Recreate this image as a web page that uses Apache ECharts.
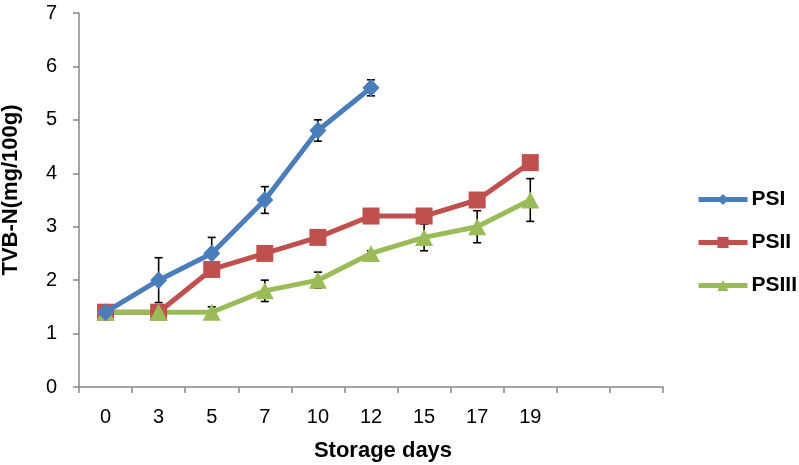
<!DOCTYPE html>
<html>
<head>
<meta charset="utf-8">
<script src="https://cdn.jsdelivr.net/npm/echarts@6/dist/echarts.min.js"></script>
<style>html,body{margin:0;padding:0;background:#fff}#c{width:799px;height:465px}</style>
</head>
<body>
<div id="c"></div>
<script>
const categories = ['0','3','5','7','10','12','15','17','19','',''];
const psi    = [1.4, 2.0, 2.5, 3.5, 4.8, 5.6, null, null, null];
const psiErr = [0, 0.42, 0.3, 0.25, 0.2, 0.15, 0, 0, 0];
const psii    = [1.4, 1.4, 2.2, 2.5, 2.8, 3.2, 3.2, 3.5, 4.2];
const psiiErr = [0, 0, 0, 0, 0, 0, 0, 0, 0];
const psiii    = [1.4, 1.4, 1.4, 1.8, 2.0, 2.5, 2.8, 3.0, 3.5];
const psiiiErr = [0, 0, 0.1, 0.2, 0.15, 0.05, 0.25, 0.3, 0.4];
const yTicks = [0,1,2,3,4,5,6,7];

function errData(vals, errs){
  const out = [];
  vals.forEach((v,i)=>{ if(v!=null && errs[i]>0) out.push([i, v-errs[i], v+errs[i]]); });
  return out;
}
function errSeries(vals, errs){
  return {
    type:'custom', z:1, silent:true,
    data: errData(vals, errs),
    encode:{x:0, y:[1,2]},
    renderItem:function(params, api){
      const x = api.value(0);
      const lo = api.coord([x, api.value(1)]);
      const hi = api.coord([x, api.value(2)]);
      const w = 4;
      const st = {stroke:'#000', lineWidth:1.6};
      return {type:'group', children:[
        {type:'line', shape:{x1:lo[0],y1:lo[1],x2:hi[0],y2:hi[1]}, style:st},
        {type:'line', shape:{x1:lo[0]-w,y1:lo[1],x2:lo[0]+w,y2:lo[1]}, style:st},
        {type:'line', shape:{x1:hi[0]-w,y1:hi[1],x2:hi[0]+w,y2:hi[1]}, style:st}
      ]};
    }
  };
}
const font = 'Liberation Sans, Arial, sans-serif';
const chart = echarts.init(document.getElementById('c'), null, {renderer:'canvas'});
chart.setOption({
  animation:false,
  grid:{left:79, top:13, right:136, bottom:78, containLabel:false, outerBoundsMode:'none'},
  legend:{
    orient:'vertical', left:696, top:189, itemGap:22, padding:0,
    itemWidth:49, itemHeight:14,
    lineStyle:{width:5},
    textStyle:{fontFamily:font, fontWeight:'bold', fontSize:21, color:'#000', padding:[0,0,0,-1]},
    data:['PSI','PSII','PSIII']
  },
  xAxis:{
    type:'category', data:categories, boundaryGap:true,
    name:'Storage days', nameLocation:'middle', nameGap:53,
    nameTextStyle:{fontFamily:font, fontWeight:'bold', fontSize:22, color:'#000', padding:[0,0,0,24]},
    axisLine:{lineStyle:{color:'#888', width:1.5}},
    axisTick:{show:true, length:6, alignWithLabel:false, lineStyle:{color:'#888', width:1.5}},
    axisLabel:{fontFamily:font, fontSize:20, color:'#000', margin:20, interval:0},
    splitLine:{show:false}
  },
  yAxis:{
    type:'value', min:0, max:7, interval:1,
    name:'TVB-N(mg/100g)', nameLocation:'middle', nameGap:57,
    nameTextStyle:{fontFamily:font, fontWeight:'bold', fontSize:22, color:'#000', padding:[0,0,0,20]},
    axisLine:{show:true, lineStyle:{color:'#888', width:1.5}},
    axisTick:{show:true, length:6, lineStyle:{color:'#888', width:1.5}},
    axisLabel:{fontFamily:font, fontSize:20, color:'#000', margin:22,
      formatter:function(v){ return yTicks.indexOf(v)>=0 ? String(v) : ''; }},
    splitLine:{show:false}
  },
  series:[
    errSeries(psi, psiErr),
    errSeries(psii, psiiErr),
    errSeries(psiii, psiiiErr),
    {name:'PSI', type:'line', z:3, data:psi, symbol:'diamond', symbolSize:[17,18],
      lineStyle:{color:'#4A7EBB', width:5}, itemStyle:{color:'#4A7EBB'}},
    {name:'PSII', type:'line', z:2, data:psii, symbol:'rect', symbolSize:17,
      lineStyle:{color:'#C0504D', width:5}, itemStyle:{color:'#C0504D'}},
    {name:'PSIII', type:'line', z:2, data:psiii, symbol:'triangle', symbolSize:[18,17],
      lineStyle:{color:'#9BBB59', width:5}, itemStyle:{color:'#9BBB59'}}
  ]
});
</script>
</body>
</html>
